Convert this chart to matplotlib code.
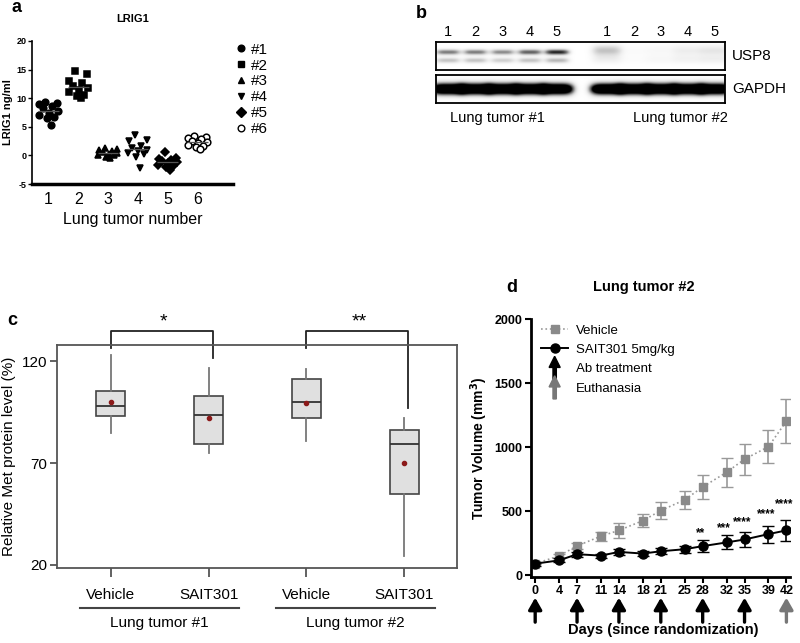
import numpy as np
import matplotlib.pyplot as plt
import matplotlib.patches as mpatches
from matplotlib.legend_handler import HandlerPatch
from matplotlib.lines import Line2D

plt.rcParams['font.family'] = ['Liberation Sans', 'DejaVu Sans']
plt.rcParams['axes.unicode_minus'] = False

# ---- panel a: LRIG1 ELISA per lung tumor
lrig1_groups = ['1', '2', '3', '4', '5', '6']
lrig1_t1 = [9.4, 9.2, 9.0, 8.6, 8.2, 7.8, 7.4, 7.1, 6.8, 6.5, 5.3]
lrig1_t2 = [14.8, 14.3, 13.0, 12.6, 12.2, 11.8, 11.4, 11.0, 10.6, 10.3, 10.0]
lrig1_t3 = [1.3, 1.2, 1.0, 0.8, 0.6, 0.5, 0.3, 0.1, 0.0, -0.3, -0.5]
lrig1_t4 = [3.5, 2.7, 2.5, 1.6, 1.3, 1.0, 0.8, 0.4, 0.2, -0.2, -2.2]
lrig1_t5 = [0.6, -0.4, -0.6, -0.8, -1.0, -1.2, -1.4, -1.6, -1.8, -2.1, -2.6]
lrig1_t6 = [3.4, 3.3, 3.1, 2.8, 2.5, 2.3, 2.1, 1.9, 1.7, 1.5, 1.2]
lrig1_legend = ['#1', '#2', '#3', '#4', '#5', '#6']

# ---- panel b: western blot band intensities (0..1)
blot_lanes = ['1', '2', '3', '4', '5']
usp8_upper_t1 = [0.6, 0.6, 0.55, 0.7, 0.9]
usp8_lower_t1 = [0.35, 0.35, 0.3, 0.35, 0.4]
usp8_upper_t2 = [0.35, 0.04, 0.06, 0.14, 0.18]
usp8_lower_t2 = [0.12, 0.03, 0.06, 0.1, 0.12]
gapdh_t1 = [1.0, 1.0, 1.0, 1.0, 1.0]
gapdh_t2 = [1.0, 1.0, 1.0, 1.0, 1.0]

# ---- panel c: relative Met protein level boxplots
met_labels = ['Vehicle', 'SAIT301', 'Vehicle', 'SAIT301']
met_groups = ['Lung tumor #1', 'Lung tumor #2']
met_med = [98, 93.4, 100, 79.3]
met_q1 = [93, 79.3, 92.2, 54.6]
met_q3 = [105.2, 103.2, 111.5, 86.5]
met_lo = [85, 74.8, 80.8, 24.4]
met_hi = [123, 116.7, 116, 92.2]
met_mean = [100, 92.4, 99.6, 70.3]
met_pvals = ['*', '**']

# ---- panel d: tumor growth
days = [0, 4, 7, 11, 14, 18, 21, 25, 28, 32, 35, 39, 42]
vehicle_mean = [89, 150, 228, 304, 349, 425, 504, 588, 688, 803, 905, 1003, 1202]
vehicle_sem = [0, 15, 25, 35, 60, 53, 63, 72, 92, 113, 122, 131, 173]
sait_mean = [89, 115, 163, 152, 181, 168, 186, 202, 226, 255, 278, 320, 349]
sait_sem = [15, 15, 20, 15, 25, 22, 25, 28, 45, 55, 62, 66, 80]
ab_days = [0, 7, 14, 21, 28, 35]
euth_day = 42
star_days = [28, 32, 35, 39, 42]
star_labels = ['**', '***', '****', '****', '****']

W, H = 800, 643


def rect(x0, y0, x1, y1):
    return [x0 / W, 1 - y1 / H, (x1 - x0) / W, (y1 - y0) / H]


fig = plt.figure(figsize=(8, 6.43), dpi=100)

for letter, (px, py) in zip('abcd', [(16, 8), (421, 14), (12, 320), (512, 287)]):
    fig.text(px / W, 1 - py / H, letter, fontsize=13, fontweight='bold', ha='center', va='center')

# ================= panel a
ax = fig.add_axes(rect(32, 41, 233, 184))
groups = [lrig1_t1, lrig1_t2, lrig1_t3, lrig1_t4, lrig1_t5, lrig1_t6]
markers = ['o', 's', '^', 'v', 'D', 'o']
fills = ['k', 'k', 'k', 'k', 'k', 'white']
jitter = np.array([-0.1, 0.3, -0.3, 0.12, -0.18, 0.32, 0.02, -0.32, 0.2, -0.05, 0.08])
for i, vals in enumerate(groups):
    x = i + 1 + jitter[:len(vals)]
    ax.plot(x, vals, ls='none', marker=markers[i], ms=4.8 if markers[i] != 'D' else 4,
            mfc=fills[i], mec='k', mew=1.1)
    m = np.mean(vals)
    ax.hlines(m, i + 1 - 0.35, i + 1 + 0.35, color='#555555', lw=0.9, zorder=3)
ax.set_xlim(0.45, 7.2)
ax.set_ylim(-5, 20)
for s in ['top', 'right']:
    ax.spines[s].set_visible(False)
ax.spines['left'].set_linewidth(1.2)
ax.spines['bottom'].set_linewidth(2.5)
ax.set_yticks([-5, 0, 5, 10, 15, 20])
ax.tick_params(axis='y', labelsize=6.5, length=3, width=1, pad=1)
for t in ax.get_yticklabels():
    t.set_fontweight('bold')
ax.set_xticks(range(1, 7))
ax.set_xticklabels(lrig1_groups)
ax.tick_params(axis='x', labelsize=11.5, length=0, pad=6)
ax.set_xlabel('Lung tumor number', fontsize=11.5, labelpad=3)
ax.set_ylabel('LRIG1 ng/ml', fontsize=8, fontweight='bold', va='center')
ax.yaxis.set_label_coords(-0.12, 0.5)
ax.set_title('LRIG1', fontsize=8, fontweight='bold', pad=14)
handles = [Line2D([], [], ls='none', marker=markers[i], mfc=fills[i], mec='k', color='k', ms=4.8)
           for i in range(6)]
ax.legend(handles, lrig1_legend, loc='upper left', bbox_to_anchor=(0.97, 1.03), frameon=False,
          fontsize=11, handletextpad=0.15, labelspacing=0.12, borderaxespad=0, handlelength=1)

# ================= panel b
lanes_t1 = np.arange(1, 6)
lanes_t2 = np.linspace(6.83, 10.8, 5)
xx = np.linspace(0.56, 11.17, 600)
yy = np.linspace(0, 1, 60)[:, None]


def band(c, yc, amp, sx, sy):
    return amp * np.exp(-((xx[None, :] - c) / sx) ** 4) * np.exp(-((yy - yc) / sy) ** 2)


usp8 = np.zeros((60, 600))
for c, a in zip(lanes_t1, usp8_upper_t1):
    usp8 += band(c, 0.36, a, 0.45, 0.1)
for c, a in zip(lanes_t1, usp8_lower_t1):
    usp8 += band(c, 0.66, a, 0.45, 0.1)
for c, a in zip(lanes_t2, usp8_upper_t2):
    usp8 += band(c, 0.3, a, 0.55, 0.2)
for c, a in zip(lanes_t2, usp8_lower_t2):
    usp8 += band(c, 0.62, a, 0.55, 0.16)
gapdh = np.zeros((60, 600))
for c, a in zip(np.concatenate([lanes_t1, lanes_t2]), gapdh_t1 + gapdh_t2):
    gapdh += band(c, 0.5, a * 1.8, 0.6, 0.2)

for img, (y0, y1), name in [(usp8, (42, 70), 'USP8'), (gapdh, (75, 103), 'GAPDH')]:
    axb = fig.add_axes(rect(436, y0, 725, y1))
    axb.imshow(np.clip(img, 0, 1), cmap='Greys', vmin=0, vmax=1, aspect='auto',
               extent=(0.56, 11.17, 1, 0), interpolation='bilinear')
    axb.set_xticks([])
    axb.set_yticks([])
    for s in axb.spines.values():
        s.set_linewidth(1.3)
    fig.text(732 / W, 1 - (y0 + y1) / 2 / H, name, fontsize=11, va='center', ha='left')
    if name == 'USP8':
        for c, lab in zip(np.concatenate([lanes_t1, lanes_t2]), blot_lanes * 2):
            axb.text(c, -0.12, lab, fontsize=10.5, ha='center', va='bottom')
fig.text(497 / W, 1 - 118 / H, 'Lung tumor #1', fontsize=10.5, ha='center', va='center')
fig.text(680 / W, 1 - 118 / H, 'Lung tumor #2', fontsize=10.5, ha='center', va='center')

# ================= panel c
ax = fig.add_axes(rect(57, 345, 457, 568))
stats = [dict(med=met_med[i], q1=met_q1[i], q3=met_q3[i], whislo=met_lo[i], whishi=met_hi[i],
              mean=met_mean[i], fliers=[]) for i in range(4)]
pos = [1, 2, 3, 4]
ax.bxp(stats, positions=pos, widths=0.3, showmeans=True, showcaps=False, patch_artist=True,
       boxprops=dict(facecolor='#e0e0e0', edgecolor='#444444', lw=1.2),
       medianprops=dict(color='#333333', lw=1.3),
       whiskerprops=dict(color='#777777', lw=1.3),
       meanprops=dict(marker='o', markerfacecolor='#8b1a1a', markeredgecolor='#8b1a1a', markersize=3))
ax.set_xlim(0.45, 4.54)
ax.set_ylim(18.5, 128)
for s in ax.spines.values():
    s.set_color('#555555')
    s.set_linewidth(1.3)
ax.set_yticks([20, 70, 120])
ax.set_xticks(pos)
ax.set_xticklabels(met_labels)
ax.tick_params(axis='x', length=6.5, width=1.3, color='#555555', pad=8, labelsize=11)
ax.tick_params(axis='y', length=5, width=1.3, color='#555555', pad=2, labelsize=11)
ax.set_ylabel('Relative Met protein level (%)', fontsize=11, labelpad=4)
for k, p in enumerate(met_pvals):
    a, b = pos[2 * k], pos[2 * k + 1]
    ytop = 134.7
    ax.plot([a, a, b + 0.04, b + 0.04], [126.4, ytop, ytop, met_hi[2 * k + 1] + 5],
            color='#222222', lw=1.3, clip_on=False)
    ax.text((a + b) / 2 + 0.04, ytop + 0.5, p, fontsize=14, ha='center', va='bottom')
for k, g in enumerate(met_groups):
    c = (pos[2 * k] + pos[2 * k + 1]) / 2
    ax.plot([c - 0.81, c + 0.81], [-0.179, -0.179], color='#444444', lw=1.5,
            transform=ax.get_xaxis_transform(), clip_on=False)
    ax.text(c, -0.247, g, fontsize=11, ha='center', va='center', transform=ax.get_xaxis_transform())

# ================= panel d
ax = fig.add_axes(rect(531, 319, 790, 577))
ax.errorbar(days, vehicle_mean, yerr=vehicle_sem, color='#999999', ls=':', lw=1.2, marker='s',
            ms=6, mfc='#8a8a8a', mec='#8a8a8a', ecolor='#999999', elinewidth=1.2, capsize=4,
            zorder=2)
ax.errorbar(days, sait_mean, yerr=sait_sem, color='k', ls='-', lw=1.4, marker='o', ms=6.5,
            ecolor='k', elinewidth=1.2, capsize=4, zorder=3)
ax.set_xlim(-0.7, 42.6)
ax.set_ylim(-15, 2000)
for s in ['top', 'right']:
    ax.spines[s].set_visible(False)
for s in ['left', 'bottom']:
    ax.spines[s].set_linewidth(2)
ax.set_xticks(days)
ax.set_yticks([0, 500, 1000, 1500, 2000])
ax.tick_params(axis='both', labelsize=9, width=1.5, length=4, pad=2)
for t in ax.get_xticklabels() + ax.get_yticklabels():
    t.set_fontweight('bold')
ax.set_ylabel(r'Tumor Volume (mm$\mathbf{^3}$)', fontsize=10, fontweight='bold', labelpad=3)

offsets = [5, 5, 7, 8.5, 11.5]
for i, (d, lab) in enumerate(zip(star_days, star_labels)):
    j = days.index(d)
    ax.annotate(lab, (d - 0.4, sait_mean[j] + sait_sem[j]), xytext=(0, offsets[i]),
                textcoords='offset points', ha='center', va='center', fontsize=8.5, fontweight='bold')

for d in ab_days + [euth_day]:
    col = 'k' if d in ab_days else '#777777'
    ax.annotate('', xy=(d, -0.08), xytext=(d, -0.175), xycoords=('data', 'axes fraction'),
                textcoords=('data', 'axes fraction'),
                arrowprops=dict(arrowstyle='-|>,head_width=0.4,head_length=0.7', lw=2.4,
                                color=col, shrinkA=0, shrinkB=0))


def make_arrow(legend, orig_handle, xdescent, ydescent, width, height, fontsize):
    return mpatches.FancyArrow(width / 2 - xdescent, -ydescent - 5, 0, height + 10, width=2.4,
                               head_width=8, head_length=8, length_includes_head=True,
                               color=orig_handle.get_facecolor())


veh_h = Line2D([], [], color='#999999', ls=':', lw=1.2, marker='s', ms=6, mfc='#8a8a8a', mec='#8a8a8a')
sait_h = Line2D([], [], color='k', ls='-', lw=1.4, marker='o', ms=6.5)
ab_patch = mpatches.Patch(color='k')
eu_patch = mpatches.Patch(color='#777777')
ax.legend([veh_h, sait_h, ab_patch, eu_patch], ['Vehicle', 'SAIT301 5mg/kg', 'Ab treatment', 'Euthanasia'],
          loc='upper left', bbox_to_anchor=(0.02, 1.0), frameon=False, fontsize=9.5, handlelength=2,
          labelspacing=0.55, handletextpad=0.6, borderaxespad=0,
          handler_map={mpatches.Patch: HandlerPatch(patch_func=make_arrow)})

fig.text(644 / W, 1 - 287 / H, 'Lung tumor #2', fontsize=10.5, fontweight='bold', ha='center', va='center')
fig.text(663 / W, 1 - 630 / H, 'Days (since randomization)', fontsize=10.5, fontweight='bold',
         ha='center', va='center')

fig.savefig('out.png', dpi=100)
